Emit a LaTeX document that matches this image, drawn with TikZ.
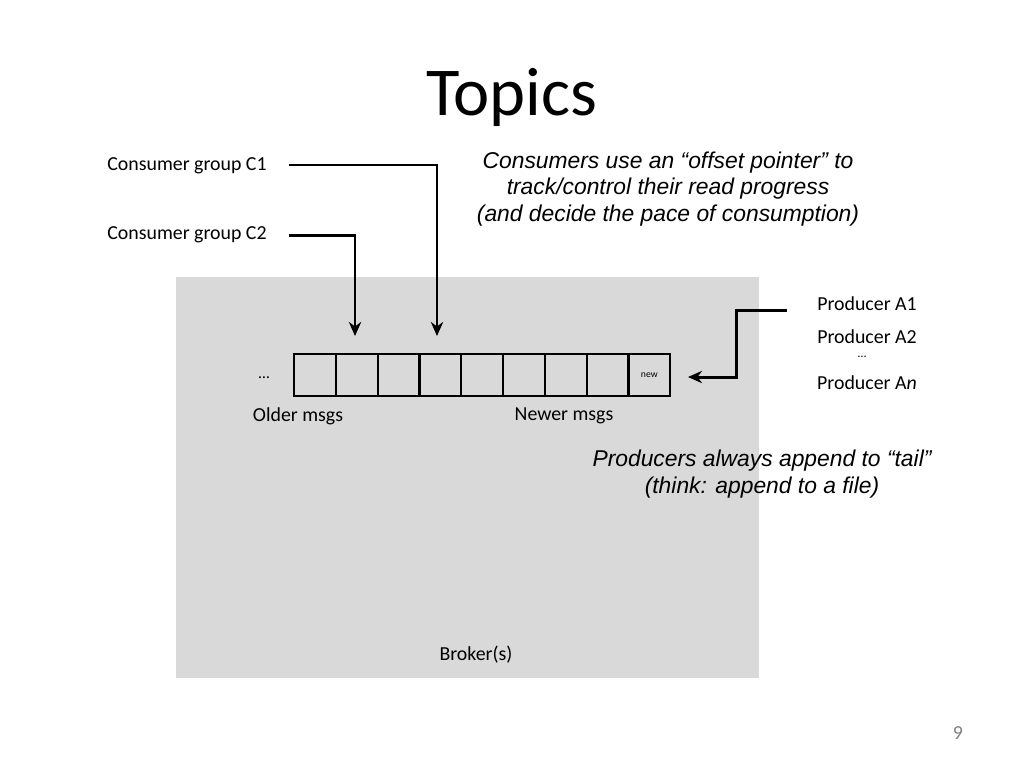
\documentclass[tikz,border=0pt]{standalone}
\usepackage{fontspec}
\setmainfont{Carlito}
\newfontfamily\arialfont{Liberation Sans}
\usetikzlibrary{arrows.meta}

\begin{document}
\begin{tikzpicture}[
        x=0.02cm, y=-0.02cm,
        lbl/.style={font=\fontsize{11.3}{13}\selectfont, inner sep=0pt},
        note/.style={font=\arialfont\itshape\fontsize{13}{15.3}\selectfont, align=center, inner sep=0pt},
        ptr/.style={line width=1.7pt, -{Stealth[length=8pt, width=7pt]}}
        ]
    \useasboundingbox (0,0) rectangle (1024,768);
    % Define styles
    \tikzstyle{cell} = [draw, line width=1.2pt, minimum width=0.836cm, minimum height=0.84cm, inner sep=0pt, anchor=west]

    % Define title and broker area
    \node[font=\fontsize{39}{42}\selectfont] (title) at (512,97) {Topics};
    \fill[black!15] (176,277) rectangle (759,678);
    \node[lbl] (broker) at (476,655) {Broker(s)};
    \node[lbl, text=black!50] (page) at (958,733) {9};

    % Define queue cells
    \foreach \i in {0,...,8}
        \node[cell] (c\i) at (293+41.8*\i,375) {};
    \node[font=\fontsize{5.5}{6}\selectfont] (new) at (c8) {new};
    \node[lbl] (dots) at (264,378) {\small\dots};
    \node[lbl] (older) at (298,416) {Older msgs};
    \node[lbl] (newer) at (564,416) {Newer msgs};

    % Define consumer nodes
    \node[lbl] (C1) at (187,166) {Consumer group C1};
    \node[lbl] (C2) at (187,235) {Consumer group C2};
    \node[note] (cnote) at (668,189) {Consumers use an “offset pointer” to\\track/control their read progress\\(and decide the pace of consumption)};

    % Define producer nodes
    \node[lbl] (A1) at (867,304) {Producer A1};
    \node[lbl] (A2) at (867,337) {Producer A2};
    \node[lbl] (Adots) at (862,357) {\scriptsize\dots};
    \node[lbl] (An) at (867,383) {Producer A\textit{n}};
    \node[note] (pnote) at (762,474) {Producers always append to “tail”\\(think: append to a file)};

    % Draw pointers
    \coordinate (p1) at (437,336);
    \coordinate (p2) at (355,336);
    \coordinate (tail) at (688,377);
    \draw[ptr] (C1.east) ++(22,-1) -| (p1);
    \draw[ptr] (C2.east) ++(22,0) -| (p2);
    \draw[ptr] (A1.west) ++(-30,6) -- ++(-50,0) |- (tail);

\end{tikzpicture}
\end{document}
